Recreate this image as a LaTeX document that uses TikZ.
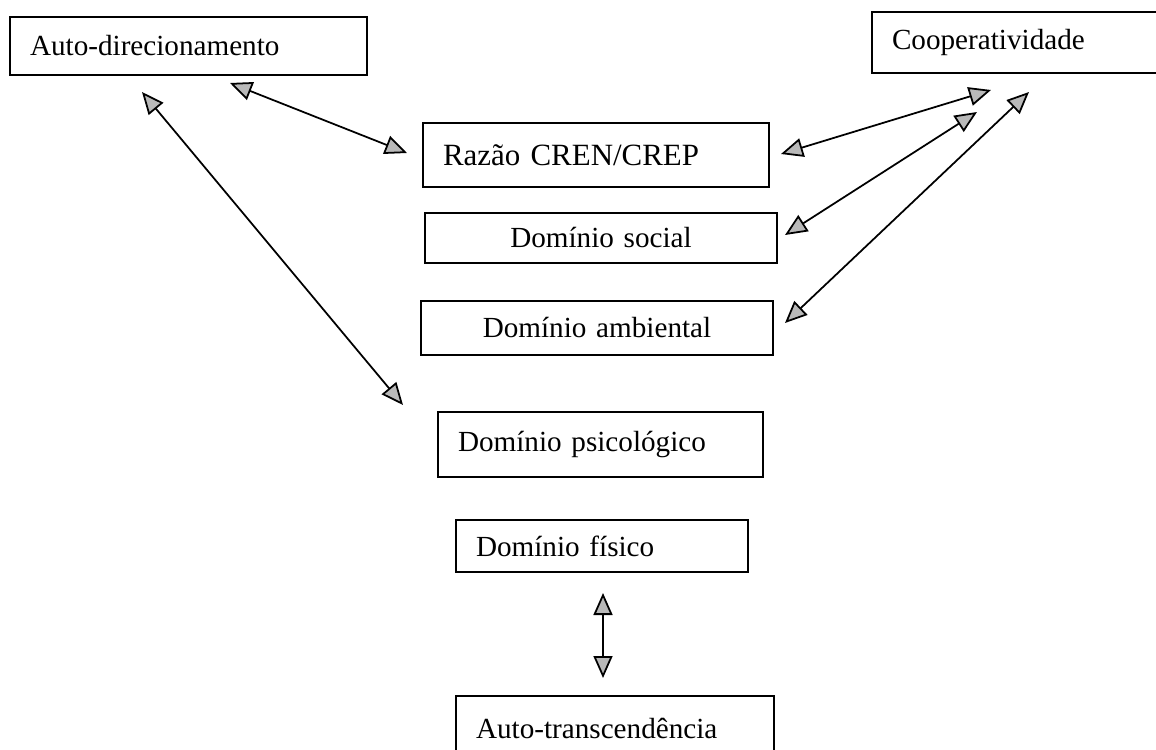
\documentclass[tikz,border=0pt]{standalone}
\usepackage{fontspec}
\setmainfont{Liberation Serif}
\usetikzlibrary{arrows.meta}

\begin{document}
\begin{tikzpicture}[x=0.02cm, y=-0.02cm,
	dombox/.style={draw, rectangle, line width=1.1pt, inner xsep=0.4cm, inner ysep=0pt, align=left, font=\fontsize{16.6}{20}\selectfont},
	link/.style={line width=1pt, {Triangle[length=4.4mm, width=3.8mm, fill=gray!55]}-{Triangle[length=4.4mm, width=3.8mm, fill=gray!55]}}]
	\useasboundingbox (0,0) rectangle (1156,750);
	\clip (0,0) rectangle (1156,750);
	% boxes
	\node (autodir) at ( 188.5,  46)	[dombox, text width=6.34cm, minimum height=1.16cm]	{Auto-direcionamento};
	\node (coop)    at (1023.5,  42.5)	[dombox, text width=5.26cm, minimum height=1.22cm]	{Cooperatividade};
	\node (razao)   at ( 596,   155)	[dombox, text width=6.12cm, minimum height=1.28cm, font=\fontsize{17.6}{20}\selectfont]	{Razão CREN/CREP};
	\node (social)  at ( 601,   238)	[dombox, text width=6.24cm, minimum height=1.00cm, align=center]	{Domínio social};
	\node (ambient) at ( 597,   328)	[dombox, text width=6.24cm, minimum height=1.08cm, align=center]	{Domínio ambiental};
	\node (psico)   at ( 600.5, 444.5)	[dombox, text width=5.70cm, minimum height=1.30cm]	{Domínio psicológico};
	\node (fisico)  at ( 602,   546)	[dombox, text width=5.04cm, minimum height=1.04cm]	{Domínio físico};
	\node (transc)  at ( 615,   728.5)	[dombox, text width=5.56cm, minimum height=1.30cm]	{Auto-transcendência};
	% arrow ends
	\coordinate (ad1) at (230,  83);
	\coordinate (ad2) at (142,  92);
	\coordinate (rz1) at (407, 153);
	\coordinate (rz2) at (781, 154);
	\coordinate (ps1) at (403, 405);
	\coordinate (co1) at (991,  90);
	\coordinate (co2) at (977, 112);
	\coordinate (co3) at (1029, 92);
	\coordinate (so1) at (785, 235);
	\coordinate (am1) at (785, 323);
	\coordinate (fi1) at (603, 593);
	\coordinate (tr1) at (603, 678);
	\draw[link] (ad1) -- (rz1);
	\draw[link] (ad2) -- (ps1);
	\draw[link] (co1) -- (rz2);
	\draw[link] (co2) -- (so1);
	\draw[link] (co3) -- (am1);
	\draw[link] (fi1) -- (tr1);
\end{tikzpicture}
\end{document}
